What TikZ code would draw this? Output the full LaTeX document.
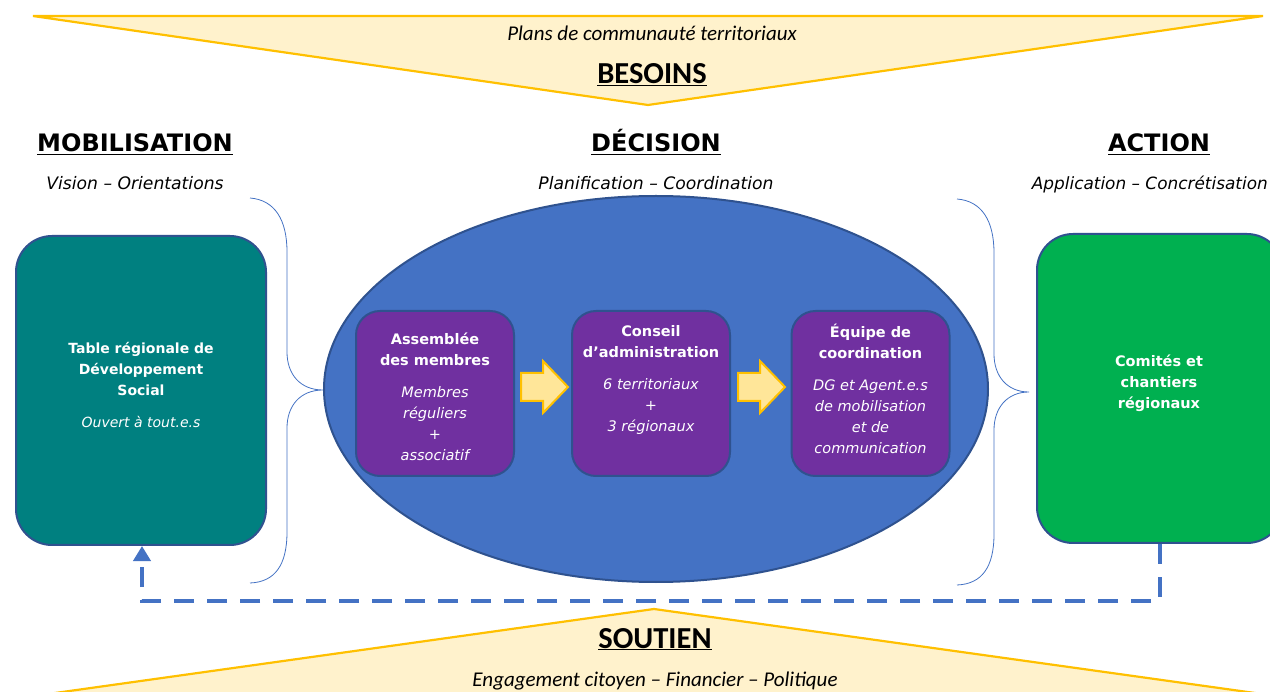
\documentclass[tikz,border=0pt]{standalone}
\usepackage{fontspec}
\setmainfont{DejaVu Sans}
\newfontfamily\calib{Carlito}
\usetikzlibrary{shapes.geometric,arrows.meta}
\definecolor{trifill}{HTML}{FFF2CC}
\definecolor{trigold}{HTML}{FFC000}
\definecolor{arrfill}{HTML}{FFE699}
\definecolor{tealc}{HTML}{008080}
\definecolor{greenc}{HTML}{00B050}
\definecolor{bluec}{HTML}{4472C4}
\definecolor{darkbl}{HTML}{2F528F}
\definecolor{purplec}{HTML}{7030A0}
\tikzset{
  tri/.style={fill=trifill, draw=trigold, line width=2.2pt, line join=miter},
  bigbox/.style={draw=darkbl, line width=2pt, rounded corners=36pt, inner sep=0pt},
  purplebox/.style={fill=purplec, draw=darkbl, line width=2pt, rounded corners=24pt, minimum width=158pt, minimum height=165pt, inner sep=0pt},
  blockarrow/.style={fill=arrfill, draw=trigold, line width=2pt, line join=miter},
  bracec/.style={draw=bluec, line width=0.8pt},
  dashconn/.style={draw=bluec, line width=4.5pt, dash pattern=on 20pt off 13pt},
  header/.style={font=\fontsize{24}{28}\selectfont\bfseries, inner sep=0pt, anchor=base},
  subhead/.style={font=\fontsize{17.2}{20}\selectfont\itshape, inner sep=0pt, anchor=base},
  boxtxt/.style={text=white, align=center, inner sep=0pt, font=\fontsize{14.5}{21}\selectfont},
  tritxt/.style={font=\calib\fontsize{21}{24}\selectfont\itshape, inner sep=0pt, anchor=base},
  trihead/.style={font=\calib\fontsize{30.5}{34}\selectfont\bfseries, inner sep=0pt, anchor=base},
}
\begin{document}
\begin{tikzpicture}[x=1pt,y=-1pt]
\useasboundingbox (0,0) rectangle (1270,692);
\clip (0,0) rectangle (1270,692);
\fill[white] (0,0) rectangle (1270,692);
% top triangle
\path[tri] (33,16) -- (1263,16) -- (648,105) -- cycle;
\node[tritxt] (plans) at (652,41) {Plans de communauté territoriaux};
\node[trihead] (besoins) at (652,84) {\underline{BESOINS}};
% bottom triangle
\path[tri] (48,694) -- (654,609) -- (1262,694) -- cycle;
\node[trihead] (soutien) at (655,648) {\underline{SOUTIEN}};
\node[tritxt] (engag) at (655,686) {Engagement citoyen – Financier – Politique};
% headers
\node[header] (mob) at (135,152) {\underline{MOBILISATION}};
\node[header] (dec) at (656,152) {\underline{DÉCISION}};
\node[header] (act) at (1159,152) {\underline{ACTION}};
\node[subhead] (mobs) at (135,190) {Vision – Orientations};
\node[subhead] (decs) at (656,190) {Planification – Coordination};
\node[subhead, anchor=base east, font=\fontsize{16.9}{20}\selectfont\itshape] (acts) at (1268,190) {Application – Concrétisation};
% braces
\draw[bracec] (250,198) .. controls (275,200) and (287,220) .. (287,252) -- (287,352)
  .. controls (287,374) and (300,390) .. (323,390)
  .. controls (300,390) and (287,406) .. (287,428) -- (287,532)
  .. controls (287,565) and (275,582) .. (250,583);
\draw[bracec] (957,199) .. controls (982,201) and (994,221) .. (994,253) -- (994,354)
  .. controls (994,376) and (1007,392) .. (1029,392)
  .. controls (1007,392) and (994,408) .. (994,430) -- (994,534)
  .. controls (994,567) and (982,584) .. (957,585);
% side boxes
\node[bigbox, fill=tealc, minimum width=250pt, minimum height=309pt] (teal) at (141,390.5) {};
\node[boxtxt, font=\fontsize{14}{21}\selectfont] (tealt) at (141,385.5) {\bfseries Table régionale de\\ \bfseries Développement\\ \bfseries Social\\[11pt] \itshape Ouvert à tout.e.s};
\node[bigbox, fill=greenc, minimum width=246pt, minimum height=309pt] (green) at (1160,388.5) {};
\node[boxtxt] (greent) at (1159,383) {\bfseries Comités et\\ \bfseries chantiers\\ \bfseries régionaux};
% central ellipse
\node[ellipse, fill=bluec, draw=darkbl, line width=2pt, minimum width=664pt, minimum height=386pt, inner sep=0pt] (decision) at (656,389) {};
% purple boxes
\node[purplebox] (assemb) at (435,393.5) {};
\node[purplebox] (conseil) at (651,393.5) {};
\node[purplebox] (equipe) at (870.5,393.5) {};
\node[boxtxt] (assembt) at (435,396.5) {\bfseries Assemblée\\ \bfseries des membres\\[11pt] \itshape Membres\\ \itshape réguliers\\ \itshape +\\ \itshape associatif};
\node[boxtxt] (conseilt) at (651,380.5) {\bfseries Conseil\\ \bfseries d’administration\\[11pt] \itshape 6 territoriaux\\ \itshape +\\ \itshape 3 régionaux};
\node[boxtxt] (equipet) at (870.5,388.5) {\bfseries Équipe de\\ \bfseries coordination\\[11pt] \itshape DG et Agent.e.s\\ \itshape de mobilisation\\ \itshape et de\\ \itshape communication};
% block arrows
\path[blockarrow] (521,373) -- ++(22,0) -- ++(0,-12) -- ++(25,26) -- ++(-25,26) -- ++(0,-12) -- ++(-22,0) -- cycle;
\path[blockarrow] (738,373) -- ++(22,0) -- ++(0,-12) -- ++(25,26) -- ++(-25,26) -- ++(0,-12) -- ++(-22,0) -- cycle;
% feedback dashed connector
\draw[dashconn, -{Triangle[length=15pt,width=17pt]}] (green.south) -- ++(0,57) -| ([xshift=1pt]teal.south);
\end{tikzpicture}
\end{document}
